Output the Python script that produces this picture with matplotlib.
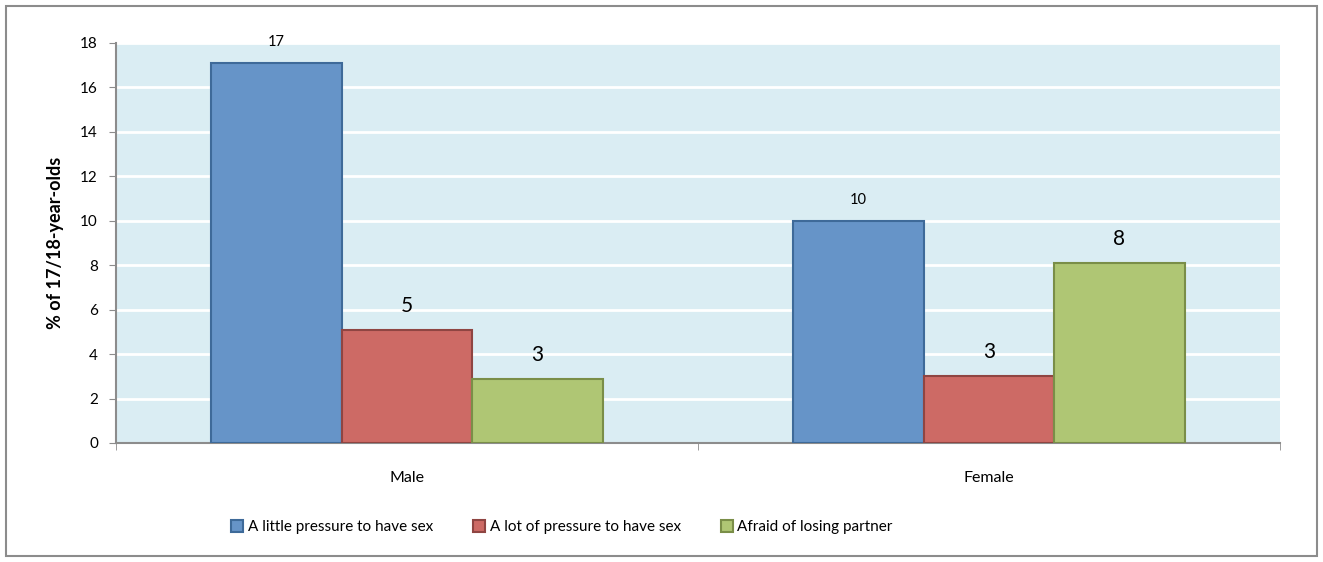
import numpy as np
import matplotlib.pyplot as plt
from matplotlib.patches import Rectangle

plt.rcParams['font.family'] = ['Lato', 'DejaVu Sans']

# data
groups = ['Male', 'Female']
series = ['A little pressure to have sex', 'A lot of pressure to have sex', 'Afraid of losing partner']
little = [17.1, 10.0]
lot = [5.1, 3.0]
afraid = [2.9, 8.1]
labels = [['17', '10'], ['5', '3'], ['3', '8']]

colors = ['#6694C8', '#CD6A65', '#AFC674']
edges = ['#3E6A99', '#8F4542', '#7A8E48']
label_sizes = [10.5, 15, 15]

fig = plt.figure(figsize=(13.23, 5.62), dpi=100)
ax = fig.add_axes([116 / 1323, 1 - 443 / 562, (1280 - 116) / 1323, 400 / 562])

# outer chart frame
fig.patches.append(Rectangle((6 / 1323, 6 / 562), 1311 / 1323, 550 / 562,
                             transform=fig.transFigure, fill=False,
                             edgecolor='#8C8C8C', linewidth=1.5))

x = np.arange(len(groups))
width = 0.224
for i, vals in enumerate([little, lot, afraid]):
    pos = x + (i - 1) * width
    bars = ax.bar(pos, vals, width, color=colors[i], edgecolor=edges[i],
                  linewidth=1.5, label=series[i], zorder=3)
    for b, txt in zip(bars, labels[i]):
        ax.annotate(txt, (b.get_x() + b.get_width() / 2, b.get_height()),
                    xytext=(0, 10), textcoords='offset points',
                    ha='center', va='bottom', fontsize=label_sizes[i])

ax.set_facecolor('#DAEDF3')
ax.set_xlim(-0.5, 1.5)
ax.set_ylim(0, 18)
ax.set_yticks(range(0, 19, 2))
ax.grid(axis='y', color='white', linewidth=2, zorder=1)
ax.set_axisbelow(True)

ax.set_xticks(x)
ax.set_xticklabels(groups, fontsize=11.5)
ax.set_xticks([-0.5, 0.5, 1.5], minor=True)
ax.tick_params(axis='x', which='major', length=0, pad=20)
ax.tick_params(axis='x', which='minor', length=5, color='#8C8C8C')
ax.tick_params(axis='y', length=5, color='#8C8C8C', labelsize=11, pad=8)

for side in ['top', 'right']:
    ax.spines[side].set_visible(False)
for side in ['left', 'bottom']:
    ax.spines[side].set_color('#8C8C8C')
    ax.spines[side].set_linewidth(1.5)

ax.set_ylabel('% of 17/18-year-olds', fontsize=13, fontweight='bold', labelpad=12)

fig.legend(loc='center', bbox_to_anchor=(562 / 1323, 1 - 527 / 562), ncol=3, frameon=False,
           fontsize=11, handlelength=0.8, handleheight=0.8, handletextpad=0.3,
           columnspacing=2.6)

fig.savefig('out.png', dpi=100)
